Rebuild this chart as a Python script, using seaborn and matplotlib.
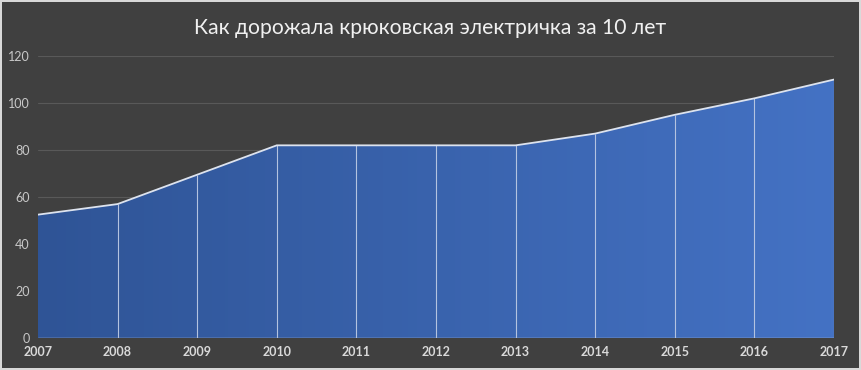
import numpy as np
import pandas as pd
import seaborn as sns
import matplotlib.pyplot as plt
from matplotlib.colors import LinearSegmentedColormap

# Данные: стоимость проезда по годам
years = [2007, 2008, 2009, 2010, 2011, 2012, 2013, 2014, 2015, 2016, 2017]
prices = [52.5, 57, 69.5, 82, 82, 82, 82, 87, 95, 102, 110]
y_ticks = [0, 20, 40, 60, 80, 100, 120]

df = pd.DataFrame({'year': years, 'price': prices})

bg = '#404040'
sns.set_theme(style='dark', rc={'axes.facecolor': bg, 'figure.facecolor': bg})
plt.rcParams['font.family'] = ['Lato', 'DejaVu Sans']

fig = plt.figure(figsize=(8.61, 3.70), dpi=100)
ax = fig.add_axes([0.0441, 0.0865, 0.9245, 0.762])

# градиентная заливка под линией
poly = ax.fill_between(df['year'], df['price'], 0, color='none', lw=0)
cmap = LinearSegmentedColormap.from_list('blues', ['#2f5496', '#4472c4'])
grad = np.linspace(0, 1, 256).reshape(1, -1)
img = ax.imshow(grad, cmap=cmap, aspect='auto', extent=[years[0], years[-1], 0, 120],
                zorder=2)
img.set_clip_path(poly.get_paths()[0], transform=ax.transData)

# вертикальные линии в каждой точке
ax.vlines(df['year'][1:], 0, df['price'][1:], color='#b4c3e0', lw=0.8, zorder=3)
sns.lineplot(data=df, x='year', y='price', ax=ax, color='#dde3ee', lw=1.3, zorder=4)
ax.plot([years[0], years[-1]], [0, 0], color='#b4c3e0', lw=1, zorder=4)

ax.set_xlim(years[0], years[-1])
ax.set_ylim(0, 120)
ax.set_yticks(y_ticks)
ax.set_xticks(years)
ax.set_yticklabels([str(t) for t in y_ticks], color='#c8c8c8', fontsize=9)
ax.set_xticklabels([str(y) for y in years], color='#d9d9d9', fontsize=9, fontweight='bold')
ax.tick_params(axis='both', length=0, pad=6)
ax.yaxis.grid(True, color='#595959', lw=0.8)
ax.xaxis.grid(False)
ax.set_axisbelow(True)
for s in ax.spines.values():
    s.set_visible(False)
ax.set_xlabel('')
ax.set_ylabel('')

fig.text(0.5, 0.925, 'Как дорожала крюковская электричка за 10 лет', ha='center', va='center',
         color='#f0f0f0', fontsize=15.2, fontweight='normal')

fig.patch.set_edgecolor('#d9d9d9')
fig.patch.set_linewidth(1.5)

fig.savefig('out.png', dpi=100, facecolor=fig.get_facecolor(), edgecolor=fig.patch.get_edgecolor())
